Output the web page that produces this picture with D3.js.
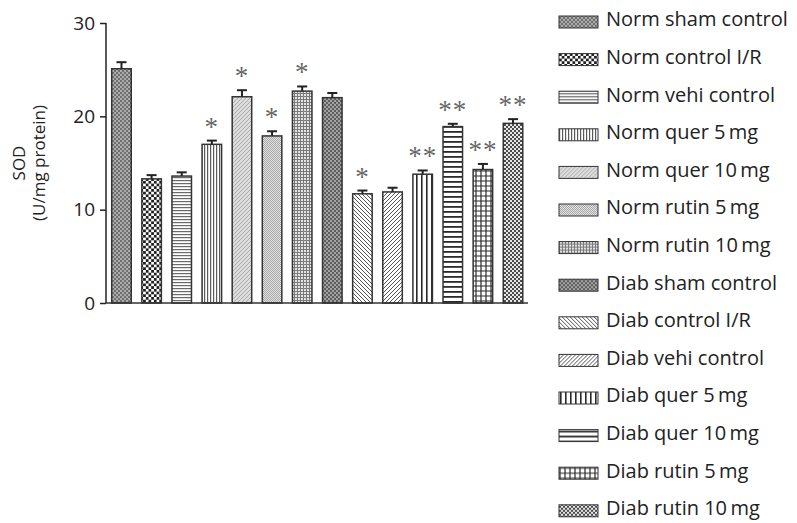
<!DOCTYPE html>
<html>
<head>
<meta charset="utf-8">
<script src="https://cdn.jsdelivr.net/npm/d3@7"></script>
<style>
  body { margin: 0; background: #fff; }
  svg { font-family: "Open Sans", "Noto Sans", sans-serif; }
</style>
</head>
<body>
<div id="chart"></div>
<script>
// Groups, mean SOD values, SEM tops and significance marks
const groups = ["Norm sham control", "Norm control I/R", "Norm vehi control", "Norm quer 5\u2009mg",
  "Norm quer 10\u2009mg", "Norm rutin 5\u2009mg", "Norm rutin 10\u2009mg", "Diab sham control",
  "Diab control I/R", "Diab vehi control", "Diab quer 5\u2009mg", "Diab quer 10\u2009mg",
  "Diab rutin 5\u2009mg", "Diab rutin 10\u2009mg"];
const means = [25.1, 13.3, 13.6, 17.0, 22.1, 17.9, 22.7, 22.0, 11.7, 11.9, 13.8, 18.9, 14.3, 19.25];
const errTop = [25.8, 13.7, 14.0, 17.4, 22.8, 18.4, 23.2, 22.5, 12.05, 12.35, 14.2, 19.2, 14.9, 19.7];
const marks = ["", "", "", "*", "*", "*", "*", "", "*", "", "**", "**", "**", "**"];
const yTicks = [0, 10, 20, 30];

const width = 797, height = 523;
const svg = d3.select("#chart").append("svg")
  .attr("width", width).attr("height", height);

// Fill patterns, one per group
const defs = svg.append("defs");
function pat(id, w, h, draw) {
  const p = defs.append("pattern").attr("id", id)
    .attr("patternUnits", "userSpaceOnUse").attr("width", w).attr("height", h);
  draw(p);
}
function checker(p, n, a, b) {
  p.append("rect").attr("width", 2 * n).attr("height", 2 * n).attr("fill", b);
  p.append("rect").attr("width", n).attr("height", n).attr("fill", a);
  p.append("rect").attr("x", n).attr("y", n).attr("width", n).attr("height", n).attr("fill", a);
}
pat("p0", 4, 4, p => checker(p, 2, "#707070", "#ababab"));
pat("p1", 5.4, 5.4, p => checker(p, 2.7, "#1e1e1e", "#fff"));
pat("p2", 3, 3, p => {
  p.append("rect").attr("width", 3).attr("height", 3).attr("fill", "#fff");
  p.append("rect").attr("width", 3).attr("height", 1.2).attr("fill", "#6a6a6a");
});
pat("p3", 3, 3, p => {
  p.append("rect").attr("width", 3).attr("height", 3).attr("fill", "#fff");
  p.append("rect").attr("width", 1.2).attr("height", 3).attr("fill", "#5a5a5a");
});
pat("p4", 4, 4, p => {
  p.append("rect").attr("width", 4).attr("height", 4).attr("fill", "#dcdcdc");
  p.append("path").attr("d", "M0,4L4,0").attr("stroke", "#a0a0a0").attr("stroke-width", 0.8);
});
pat("p5", 2, 2, p => checker(p, 1, "#a8a8a8", "#e2e2e2"));
pat("p6", 3, 3, p => {
  p.append("rect").attr("width", 3).attr("height", 3).attr("fill", "#e4e4e4");
  p.append("path").attr("d", "M0,0.5H3M0.5,0V3").attr("stroke", "#7a7a7a").attr("stroke-width", 1);
});
pat("p7", 4, 4, p => checker(p, 2, "#5e5e5e", "#a2a2a2"));
pat("p8", 4, 4, p => {
  p.append("rect").attr("width", 4).attr("height", 4).attr("fill", "#fff");
  p.append("path").attr("d", "M-1,-1L5,5M-1,3L1,5M3,-1L5,1").attr("stroke", "#555").attr("stroke-width", 1);
});
pat("p9", 4, 4, p => {
  p.append("rect").attr("width", 4).attr("height", 4).attr("fill", "#fff");
  p.append("path").attr("d", "M-1,5L5,-1M-1,1L1,-1M3,5L5,3").attr("stroke", "#555").attr("stroke-width", 1);
});
pat("p10", 5, 5, p => {
  p.append("rect").attr("width", 5).attr("height", 5).attr("fill", "#fff");
  p.append("rect").attr("x", 1).attr("width", 1.6).attr("height", 5).attr("fill", "#2a2a2a");
});
pat("p11", 5, 5, p => {
  p.append("rect").attr("width", 5).attr("height", 5).attr("fill", "#fff");
  p.append("rect").attr("y", 1).attr("width", 5).attr("height", 1.8).attr("fill", "#2a2a2a");
});
pat("p12", 5, 5, p => {
  p.append("rect").attr("width", 5).attr("height", 5).attr("fill", "#fff");
  p.append("path").attr("d", "M0,1H5M1,0V5").attr("stroke", "#2a2a2a").attr("stroke-width", 1.2);
});
pat("p13", 4, 4, p => checker(p, 2, "#4a4a4a", "#e8e8e8"));

// Scales
const x = d3.scaleBand().domain(groups).range([106, 528.5])
  .paddingInner(0.352).paddingOuter(0.19);
const y = d3.scaleLinear().domain([0, 30]).range([303, 23]);

// Bars
svg.append("g").selectAll("rect").data(groups).join("rect")
  .attr("x", d => x(d))
  .attr("y", (d, i) => y(means[i]))
  .attr("width", x.bandwidth())
  .attr("height", (d, i) => y(0) - y(means[i]))
  .attr("fill", (d, i) => `url(#p${i})`)
  .attr("stroke", "#333").attr("stroke-width", 1.5);

// Error bars
const eb = svg.append("g").attr("stroke", "#222").attr("stroke-width", 2);
groups.forEach((g, i) => {
  const cx = x(g) + x.bandwidth() / 2;
  eb.append("line").attr("x1", cx).attr("x2", cx).attr("y1", y(means[i])).attr("y2", y(errTop[i]));
  eb.append("line").attr("x1", cx - 5).attr("x2", cx + 5).attr("y1", y(errTop[i])).attr("y2", y(errTop[i]));
});

// Significance marks
svg.append("g").selectAll("text").data(groups).join("text")
  .attr("x", d => x(d) + x.bandwidth() / 2)
  .attr("y", (d, i) => y(errTop[i]) - 5)
  .attr("text-anchor", "middle")
  .attr("font-family", "Liberation Serif, serif")
  .attr("font-size", 27).attr("fill", "#666")
  .attr("letter-spacing", 1)
  .text((d, i) => marks[i]);

// Axes
const yAxis = svg.append("g").attr("transform", "translate(106,0)")
  .call(d3.axisLeft(y).tickValues(yTicks).tickSize(6).tickPadding(5).tickFormat(d3.format("d")));
yAxis.selectAll("text").attr("font-size", 19).attr("fill", "#222").attr("font-family", "Open Sans, sans-serif");
yAxis.selectAll("line, path").attr("stroke", "#222").attr("stroke-width", 1.5);
yAxis.select(".domain").attr("d", `M0,${y(30)}V${y(0)}`);

svg.append("line").attr("x1", 106).attr("x2", 528).attr("y1", y(0)).attr("y2", y(0))
  .attr("stroke", "#333").attr("stroke-width", 1.5);

// Y label
const yl = svg.append("text").attr("transform", `translate(30,${y(15)}) rotate(-90)`)
  .attr("text-anchor", "middle").attr("font-size", 17).attr("fill", "#222");
yl.append("tspan").attr("x", 0).attr("dy", "-0.3em").text("SOD");
yl.append("tspan").attr("x", 0).attr("dy", "1.2em").text("(U/mg protein)");

// Legend
const lg = svg.append("g").selectAll("g").data(groups).join("g")
  .attr("transform", (d, i) => `translate(559,${21 + i * 37.6})`);
lg.append("rect").attr("y", -5).attr("width", 39).attr("height", 12)
  .attr("fill", (d, i) => `url(#p${i})`).attr("stroke", "#333").attr("stroke-width", 1);
lg.append("text").attr("x", 47).attr("y", 0).attr("dominant-baseline", "middle")
  .attr("font-size", 20).attr("fill", "#222").text(d => d);
</script>
</body>
</html>
